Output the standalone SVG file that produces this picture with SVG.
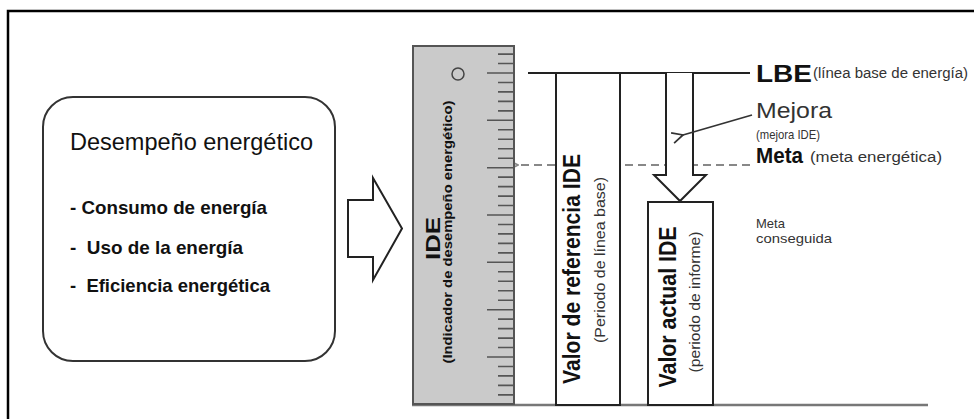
<svg xmlns="http://www.w3.org/2000/svg" width="974" height="419" viewBox="0 0 974 419">
<style>
.t{font-family:"Liberation Sans Narrow","Liberation Sans",Arial,sans-serif;fill:#111}
.b{font-weight:bold}
.lt{fill:#333}
.box{fill:#fff;stroke:#222;stroke-width:2}
.tick{stroke:#555;stroke-width:1.6;fill:none}
</style>
<defs>
<marker id="open" viewBox="0 0 12 12" refX="1" refY="6" markerWidth="13" markerHeight="13" markerUnits="userSpaceOnUse" orient="auto-start-reverse">
<path d="M11,1 L1,6 L11,11" fill="none" stroke="#333" stroke-width="1.6"/>
</marker>
<marker id="openg" viewBox="0 0 12 12" refX="1" refY="6" markerWidth="12" markerHeight="12" markerUnits="userSpaceOnUse" orient="auto-start-reverse">
<path d="M11,1 L1,6 L11,11" fill="none" stroke="#888" stroke-width="1.6"/>
</marker>
</defs>
<rect width="974" height="419" fill="#fff"/>
<path d="M8,419 L8,11 L974,11" fill="none" stroke="#000" stroke-width="2.5"/>

<g id="connectors">
<polygon points="348,200 373,200 373,178 402,228.5 373,280 373,257 348,257" fill="#fff" stroke="#222" stroke-width="2"/>
<line x1="750" y1="165" x2="518" y2="165" stroke="#888" stroke-width="1.8" stroke-dasharray="8,5" marker-end="url(#openg)"/>
<line x1="528" y1="73" x2="750" y2="73" stroke="#222" stroke-width="2.2"/>
<line x1="412" y1="405" x2="928" y2="405" stroke="#777" stroke-width="2.5"/>
</g>

<g id="desempeno">
<rect x="43" y="97" width="292" height="264" rx="30" fill="#fff" stroke="#333" stroke-width="2"/>
<text class="t" x="70" y="150" font-size="24" textLength="243" lengthAdjust="spacingAndGlyphs">Desempeño energético</text>
<text class="t b" x="70" y="214" font-size="19" textLength="197" lengthAdjust="spacingAndGlyphs" xml:space="preserve">- Consumo de energía</text>
<text class="t b" x="70" y="254" font-size="19" textLength="173" lengthAdjust="spacingAndGlyphs" xml:space="preserve">-  Uso de la energía</text>
<text class="t b" x="70" y="292" font-size="19" textLength="200" lengthAdjust="spacingAndGlyphs" xml:space="preserve">-  Eficiencia energética</text>
</g>

<g id="ruler">
<rect x="413" y="46" width="101" height="358" fill="#cacaca" stroke="#555" stroke-width="2"/>
<path class="tick" d="M498,54.1H514M498,63.5H514M498,82.5H514M498,91.9H514M498,101.4H514M498,110.9H514M498,129.8H514M498,139.3H514M498,148.7H514M498,158.2H514M498,177.1H514M498,186.6H514M498,196.1H514M498,205.5H514M498,224.5H514M498,233.9H514M498,243.4H514M498,252.9H514M498,271.8H514M498,281.3H514M498,290.7H514M498,300.2H514M498,319.1H514M498,328.6H514M498,338.1H514M498,347.5H514M498,366.5H514M498,375.9H514M498,385.4H514M498,394.9H514"/>
<path class="tick" d="M487,73H514M487,120.3H514M487,167.7H514M487,215H514M487,262.3H514M487,309.7H514M487,357H514"/>
<circle cx="458" cy="74" r="6" fill="none" stroke="#444" stroke-width="1.5"/>
<text class="t b" transform="translate(440,238.5) rotate(-90)" x="0" y="0" font-size="20" text-anchor="middle" textLength="43" lengthAdjust="spacingAndGlyphs">IDE</text>
<text class="t b" transform="translate(452,232) rotate(-90)" x="0" y="0" font-size="13" text-anchor="middle" textLength="263" lengthAdjust="spacingAndGlyphs">(Indicador de desempeño energético)</text>
</g>

<g id="referencia">
<rect class="box" x="556" y="73" width="64" height="332"/>
<text class="t b" transform="translate(580,269) rotate(-90)" x="0" y="0" font-size="24" text-anchor="middle" textLength="230" lengthAdjust="spacingAndGlyphs">Valor de referencia IDE</text>
<text class="t lt" transform="translate(605,260) rotate(-90)" x="0" y="0" font-size="15" text-anchor="middle" textLength="166" lengthAdjust="spacingAndGlyphs">(Periodo de línea base)</text>
</g>

<g id="mejora-flecha">
<path d="M666,73 L666,175 L654,175 L680,201 L706,175 L693,175 L693,73" fill="#fff" stroke="#222" stroke-width="2"/>
<line x1="752" y1="115" x2="683" y2="135" stroke="#333" stroke-width="1.8" marker-end="url(#open)"/>
</g>

<g id="actual">
<rect class="box" x="648" y="202" width="65" height="203"/>
<text class="t b" transform="translate(676,307) rotate(-90)" x="0" y="0" font-size="24" text-anchor="middle" textLength="161" lengthAdjust="spacingAndGlyphs">Valor actual IDE</text>
<text class="t lt" transform="translate(700,302) rotate(-90)" x="0" y="0" font-size="15" text-anchor="middle" textLength="141" lengthAdjust="spacingAndGlyphs">(periodo de informe)</text>
</g>

<g id="etiquetas">
<text class="t b" x="756" y="82" font-size="24" textLength="56" lengthAdjust="spacingAndGlyphs">LBE</text>
<text class="t lt" x="813" y="78" font-size="14" textLength="155" lengthAdjust="spacingAndGlyphs">(línea base de energía)</text>
<text class="t lt" x="756" y="118" font-size="22" textLength="76" lengthAdjust="spacingAndGlyphs">Mejora</text>
<text class="t lt" x="756" y="139" font-size="13" textLength="64" lengthAdjust="spacingAndGlyphs">(mejora IDE)</text>
<text class="t b" x="756" y="163" font-size="22" textLength="47" lengthAdjust="spacingAndGlyphs">Meta</text>
<text class="t lt" x="810" y="162" font-size="14" textLength="132" lengthAdjust="spacingAndGlyphs">(meta energética)</text>
<text class="t lt" x="756" y="228" font-size="13">Meta</text>
<text class="t lt" x="756" y="243" font-size="13" textLength="76" lengthAdjust="spacingAndGlyphs">conseguida</text>
</g>
</svg>
